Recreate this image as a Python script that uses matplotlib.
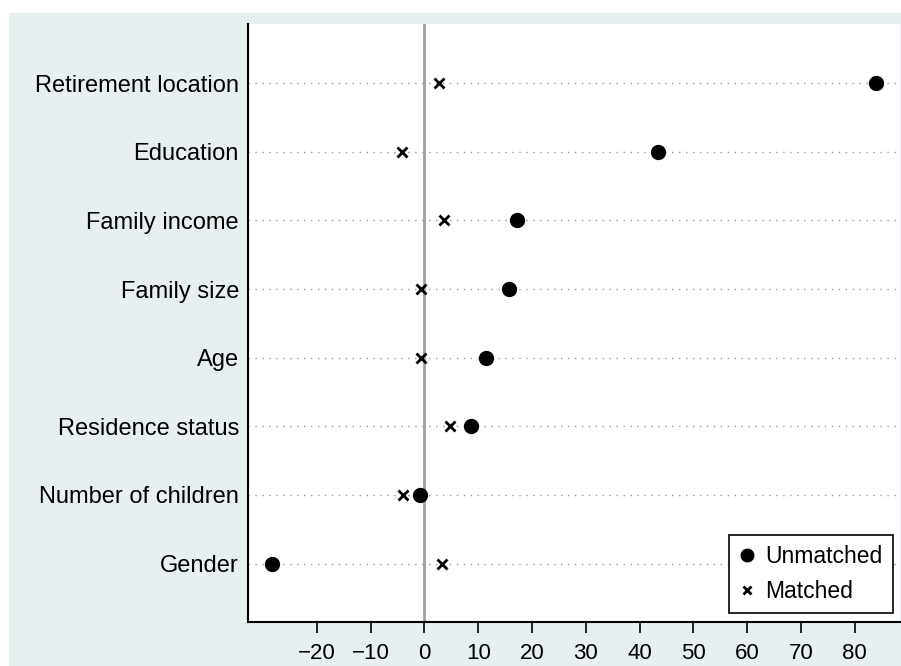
import numpy as np
import matplotlib.pyplot as plt
from matplotlib.patches import Rectangle

plt.rcParams['font.family'] = ['Liberation Sans', 'DejaVu Sans']

# covariates, listed bottom to top
variables = ["Gender", "Number of children", "Residence status", "Age",
             "Family size", "Family income", "Education", "Retirement location"]
unmatched = [-28.3, -0.8, 8.7, 11.4, 15.7, 17.2, 43.4, 83.9]
matched = [3.3, -4.0, 4.8, -0.6, -0.6, 3.6, -4.2, 2.7]
xticks = [-20, -10, 0, 10, 20, 30, 40, 50, 60, 70, 80]

bg = '#e7eff1'
fig = plt.figure(figsize=(9.01, 6.66), dpi=100)
fig.patch.set_facecolor('white')
# shaded panel behind the plot
fig.patches.append(Rectangle((9 / 901, 0), 892 / 901, 653 / 666,
                             transform=fig.transFigure, facecolor=bg,
                             edgecolor='none', zorder=-10))

ax = fig.add_axes([248 / 901, 44 / 666, 652 / 901, 598 / 666])
ax.set_facecolor('white')

y = np.arange(1, len(variables) + 1)
for yy in y:
    ax.axhline(yy, color='#9a9a9a', linestyle=(0, (1, 4)), linewidth=1, zorder=1)
ax.axvline(0, color='#a0a0a0', linewidth=2, zorder=1)

ax.plot(unmatched, y, 'o', color='black', markersize=10, linestyle='none',
        label='Unmatched', zorder=3)
ax.plot(matched, y, 'x', color='black', markersize=6.5, markeredgewidth=2,
        linestyle='none', label='Matched', zorder=3)

ax.set_xlim(-32.8, 88.4)
ax.set_ylim(0.15, 8.86)
ax.set_yticks(y)
ax.set_yticklabels(variables, fontsize=17)
ax.tick_params(axis='y', length=0, pad=6.5)
ax.set_xticks(xticks)
ax.set_xticklabels([str(t).replace('-', '\u2212') for t in xticks], fontsize=16)
ax.tick_params(axis='x', length=8, width=1.2, pad=7)

for side in ['top', 'right']:
    ax.spines[side].set_visible(False)
ax.spines['left'].set_linewidth(1.5)
ax.spines['bottom'].set_linewidth(1.5)

leg = ax.legend(loc='lower right', bbox_to_anchor=(893 / 901, 53 / 666),
                bbox_transform=fig.transFigure, borderaxespad=0, fontsize=16.5,
                frameon=True, fancybox=False, edgecolor='black',
                handletextpad=0.45, borderpad=0.45, handlelength=0.7,
                labelspacing=0.5, markerscale=0.9)
leg.get_frame().set_linewidth(1.2)
leg.get_frame().set_alpha(1)

fig.savefig('out.png', dpi=100)
